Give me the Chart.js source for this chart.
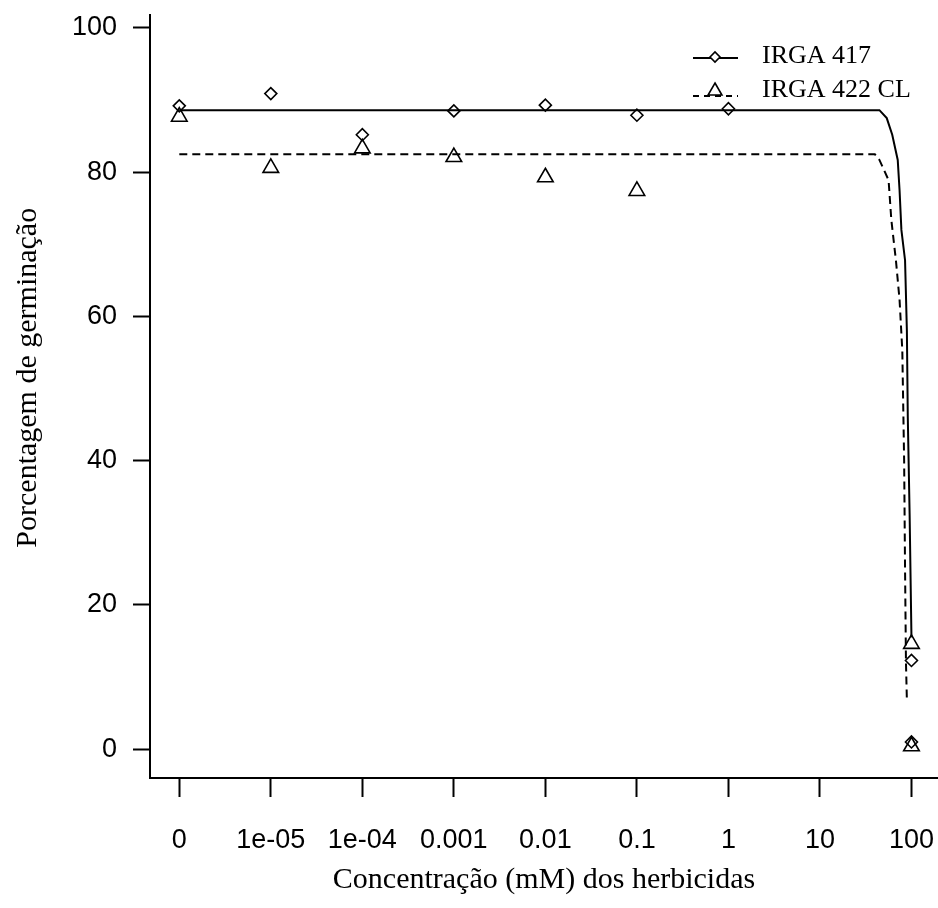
<!DOCTYPE html>
<html>
<head>
<meta charset="utf-8">
<script src="https://cdn.jsdelivr.net/npm/chart.js@4/dist/chart.umd.min.js"></script>
<style>
  html, body { margin: 0; padding: 0; background: #ffffff; }
  #wrap { width: 938px; height: 908px; }
</style>
</head>
<body>
<div id="wrap"><canvas id="c" width="938" height="908"></canvas></div>
<script>
// Dose axis: each concentration sits at an evenly spaced position (log10 steps, 0 first)
const doseLabels = ['0', '1e-05', '1e-04', '0.001', '0.01', '0.1', '1', '10', '100'];
const yTickValues = [0, 20, 40, 60, 80, 100];

// Observed germination (%) – IRGA 417
const obs417Pos = [0, 1, 2, 3, 4, 5, 6, 8, 8];
const obs417Val = [89.2, 90.9, 85.2, 88.5, 89.3, 87.9, 88.8, 12.3, 1.0];

// Observed germination (%) – IRGA 422 CL
const obs422Pos = [0, 1, 2, 3, 4, 5, 8, 8];
const obs422Val = [87.7, 80.6, 83.3, 82.1, 79.3, 77.4, 14.6, 0.4];

// Fitted dose-response curves
const fit417Pos = [0, 7.65, 7.73, 7.79, 7.85, 7.87, 7.89, 7.93, 7.95, 7.96, 7.98, 8.0];
const fit417Val = [88.6, 88.6, 87.5, 85.2, 81.7, 77.5, 72.0, 67.8, 58.0, 46.0, 32.5, 15.5];
const fit422Pos = [0, 7.6, 7.65, 7.75, 7.78, 7.83, 7.87, 7.90, 7.92, 7.93, 7.94, 7.95];
const fit422Val = [82.5, 82.5, 81.7, 78.9, 73.4, 67.8, 62.3, 55.3, 40.0, 25.0, 12.0, 6.8];

const seriesNames = ['IRGA 417', 'IRGA 422 CL'];

const pts = (xs, ys) => xs.map((x, i) => ({ x: x, y: ys[i] }));

const tickFont = { family: "'Liberation Sans', Arial, sans-serif", size: 27 };
const titleFont = { family: "'Liberation Serif', 'Times New Roman', serif", size: 30 };

const markerCommon = {
  showLine: false,
  borderColor: '#000',
  backgroundColor: 'rgba(0,0,0,0)',
  pointBorderWidth: 1.6,
  pointHoverRadius: 0
};

// Legend drawn inside the plot, top right
const innerLegend = {
  id: 'innerLegend',
  afterDraw(chart) {
    const ctx = chart.ctx;
    ctx.save();
    const rows = [
      { y: 58, dash: [], style: 'rectRot', r: 5, my: 57, text: seriesNames[0], ty: 63 },
      { y: 96, dash: [6, 5], style: 'triangle', r: 8, my: 91, text: seriesNames[1], ty: 97 }
    ];
    rows.forEach(row => {
      ctx.strokeStyle = '#000';
      ctx.lineWidth = 2;
      ctx.setLineDash(row.dash);
      ctx.beginPath();
      ctx.moveTo(693, row.y);
      ctx.lineTo(738, row.y);
      ctx.stroke();
      ctx.setLineDash([]);
      ctx.lineWidth = 1.6;
      ctx.fillStyle = '#ffffff';
      Chart.helpers.drawPoint(ctx, { pointStyle: row.style, radius: row.r, borderWidth: 1.6, rotation: 0 }, 715, row.my);
      ctx.fillStyle = '#000';
      ctx.font = "26px 'Liberation Serif', 'Times New Roman', serif";
      ctx.textBaseline = 'alphabetic';
      ctx.textAlign = 'left';
      ctx.fillText(row.text, 762, row.ty);
    });
    ctx.restore();
  }
};

const noEdgePadding = s => {
  s.paddingLeft = 0;
  s.paddingRight = 0;
  s.paddingTop = 0;
  s.paddingBottom = 0;
};

new Chart(document.getElementById('c'), {
  type: 'scatter',
  data: {
    datasets: [
      {
        label: seriesNames[0] + ' ajuste',
        data: pts(fit417Pos, fit417Val),
        showLine: true,
        borderColor: '#000',
        borderWidth: 2,
        pointRadius: 0,
        tension: 0,
        order: 1
      },
      {
        label: seriesNames[1] + ' ajuste',
        data: pts(fit422Pos, fit422Val),
        showLine: true,
        borderColor: '#000',
        borderWidth: 2,
        borderDash: [8, 5],
        pointRadius: 0,
        tension: 0,
        order: 2
      },
      Object.assign({
        label: seriesNames[0],
        data: pts(obs417Pos, obs417Val),
        pointStyle: 'rectRot',
        pointRadius: 6,
        order: 3
      }, markerCommon),
      Object.assign({
        label: seriesNames[1],
        data: pts(obs422Pos, obs422Val),
        pointStyle: 'triangle',
        pointRadius: 9,
        order: 4
      }, markerCommon)
    ]
  },
  options: {
    responsive: false,
    animation: false,
    events: [],
    layout: { autoPadding: false, padding: { top: 15, right: 0, bottom: 0, left: 0 } },
    plugins: {
      legend: { display: false },
      tooltip: { enabled: false }
    },
    scales: {
      x: {
        type: 'linear',
        min: -0.32,
        max: 8.29,
        afterBuildTicks: s => { s.ticks = doseLabels.map((_, i) => ({ value: i })); },
        afterFit: s => { s.height = 130; noEdgePadding(s); },
        grid: { drawOnChartArea: false, drawTicks: true, tickLength: 19, tickColor: '#000', tickWidth: 2 },
        border: { display: true, color: '#000', width: 2 },
        ticks: {
          autoSkip: false,
          maxRotation: 0,
          minRotation: 0,
          padding: 27,
          color: '#000',
          font: tickFont,
          callback: v => doseLabels[v]
        },
        title: {
          display: true,
          text: 'Concentração (mM) dos herbicidas',
          color: '#000',
          font: titleFont,
          padding: { top: 0, bottom: 10 }
        }
      },
      y: {
        type: 'linear',
        min: -4.0,
        max: 101.8,
        afterBuildTicks: s => { s.ticks = yTickValues.map(v => ({ value: v })); },
        afterFit: s => { s.width = 150; noEdgePadding(s); },
        grid: { drawOnChartArea: false, drawTicks: true, tickLength: 17, tickColor: '#000', tickWidth: 2 },
        border: { display: true, color: '#000', width: 2 },
        ticks: {
          padding: 16,
          color: '#000',
          font: tickFont
        },
        title: {
          display: true,
          text: '     Porcentagem de germinação',
          color: '#000',
          font: titleFont,
          padding: { top: 10, bottom: 0 }
        }
      }
    }
  },
  plugins: [innerLegend]
});
</script>
</body>
</html>
